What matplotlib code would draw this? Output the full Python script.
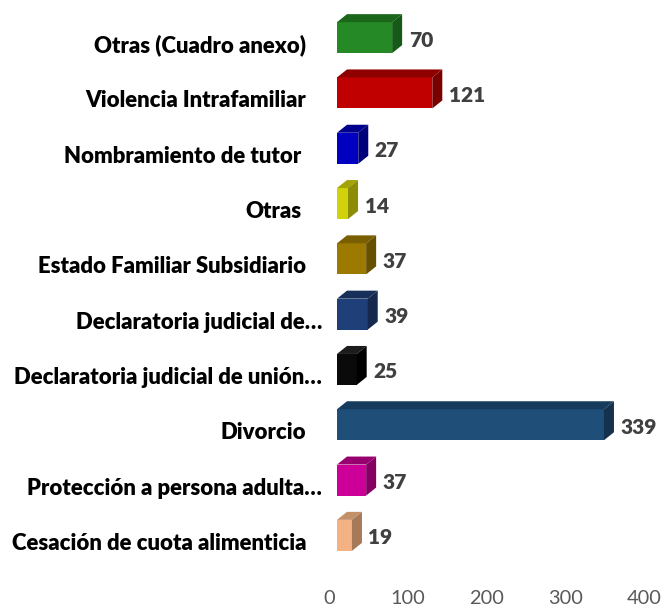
import matplotlib
matplotlib.use('Agg') # No DISPLAY
import matplotlib.pyplot as plt
from matplotlib.patches import Polygon
from matplotlib.transforms import ScaledTranslation

plt.rcParams['font.family'] = ['Lato', 'DejaVu Sans']

categories = ["Otras (Cuadro anexo)", "Violencia Intrafamiliar", "Nombramiento de tutor",
              "Otras", "Estado Familiar Subsidiario", "Declaratoria judicial de…",
              "Declaratoria judicial de unión…", "Divorcio",
              "Protección a persona adulta…", "Cesación de cuota alimenticia"]
values = [70, 121, 27, 14, 37, 39, 25, 339, 37, 19]
front_colors = ['#258a25', '#c00000', '#0000c0', '#d2d20a', '#9c7a00',
                '#1f3f78', '#0a0a0a', '#1f4e79', '#cc0099', '#f4b183']
top_colors = ['#1c661c', '#8f0000', '#00008f', '#a3a305', '#7a5f00',
              '#173059', '#1c1c1c', '#173b5c', '#99006f', '#c49068']
side_colors = ['#175a17', '#7a0000', '#00007a', '#8c8c05', '#665000',
               '#14294d', '#000000', '#14324e', '#850063', '#a67a58']
# how far each label's right edge sits left of the bars, in pixels
label_pad = [31, 31, 36, 36, 31, 15, 15, 31, 15, 31]
xticks = [0, 100, 200, 300, 400]

W, H = 664, 608
fig = plt.figure(figsize=(W / 100, H / 100), dpi=100)
# axes spans the area of the bars, x=0 on the bars' front left edge
left, right, top, bottom = 337, 652, 10, 563
ax = fig.add_axes([left / W, 1 - bottom / H, (right - left) / W, (bottom - top) / H])
px_x = (right - left) / 400.0  # px per unit, with xlim 0-400
ax.set_xlim(0, 400)
ax.set_ylim(len(values) - 0.5 + 0.0, -0.5)
px_y = (bottom - top) / float(len(values))

bar_h = 31 / px_y
dx = 10 / px_x
dy = 8 / px_y

ys = list(range(len(values)))
ax.barh(ys, values, height=bar_h, color=front_colors, edgecolor='none', zorder=2)
for y, v, tc, sc in zip(ys, values, top_colors, side_colors):
    t, b = y - bar_h / 2, y + bar_h / 2
    ax.add_patch(Polygon([(0, t), (dx, t - dy), (v + dx, t - dy), (v, t)],
                         closed=True, fc=tc, ec='none', zorder=2))
    ax.add_patch(Polygon([(v, t), (v + dx, t - dy), (v + dx, b - dy), (v, b)],
                         closed=True, fc=sc, ec='none', zorder=2))
    ax.annotate(str(v), (v, y), xytext=(16.5 * 0.72, -2.5 * 0.72), textcoords='offset points',
                ha='left', va='center', fontsize=15, fontweight='heavy', color='#404040')

for s in ax.spines.values():
    s.set_visible(False)

ax.set_yticks(ys)
ax.set_yticklabels(categories, fontsize=15.9, fontweight='heavy', color='black')
ax.tick_params(axis='y', length=0, pad=0)
for lab, p in zip(ax.get_yticklabels(), label_pad):
    lab.set_transform(lab.get_transform() + ScaledTranslation(-p / 100, -6 / 100, fig.dpi_scale_trans))

ax.set_xticks(xticks)
ax.tick_params(axis='x', length=0, pad=0, labelsize=14.4, labelcolor='#595959')
for lab in ax.get_xticklabels():
    lab.set_transform(lab.get_transform() + ScaledTranslation(-8 / 100, -27 / 100, fig.dpi_scale_trans))

fig.savefig('out.png', dpi=100)
